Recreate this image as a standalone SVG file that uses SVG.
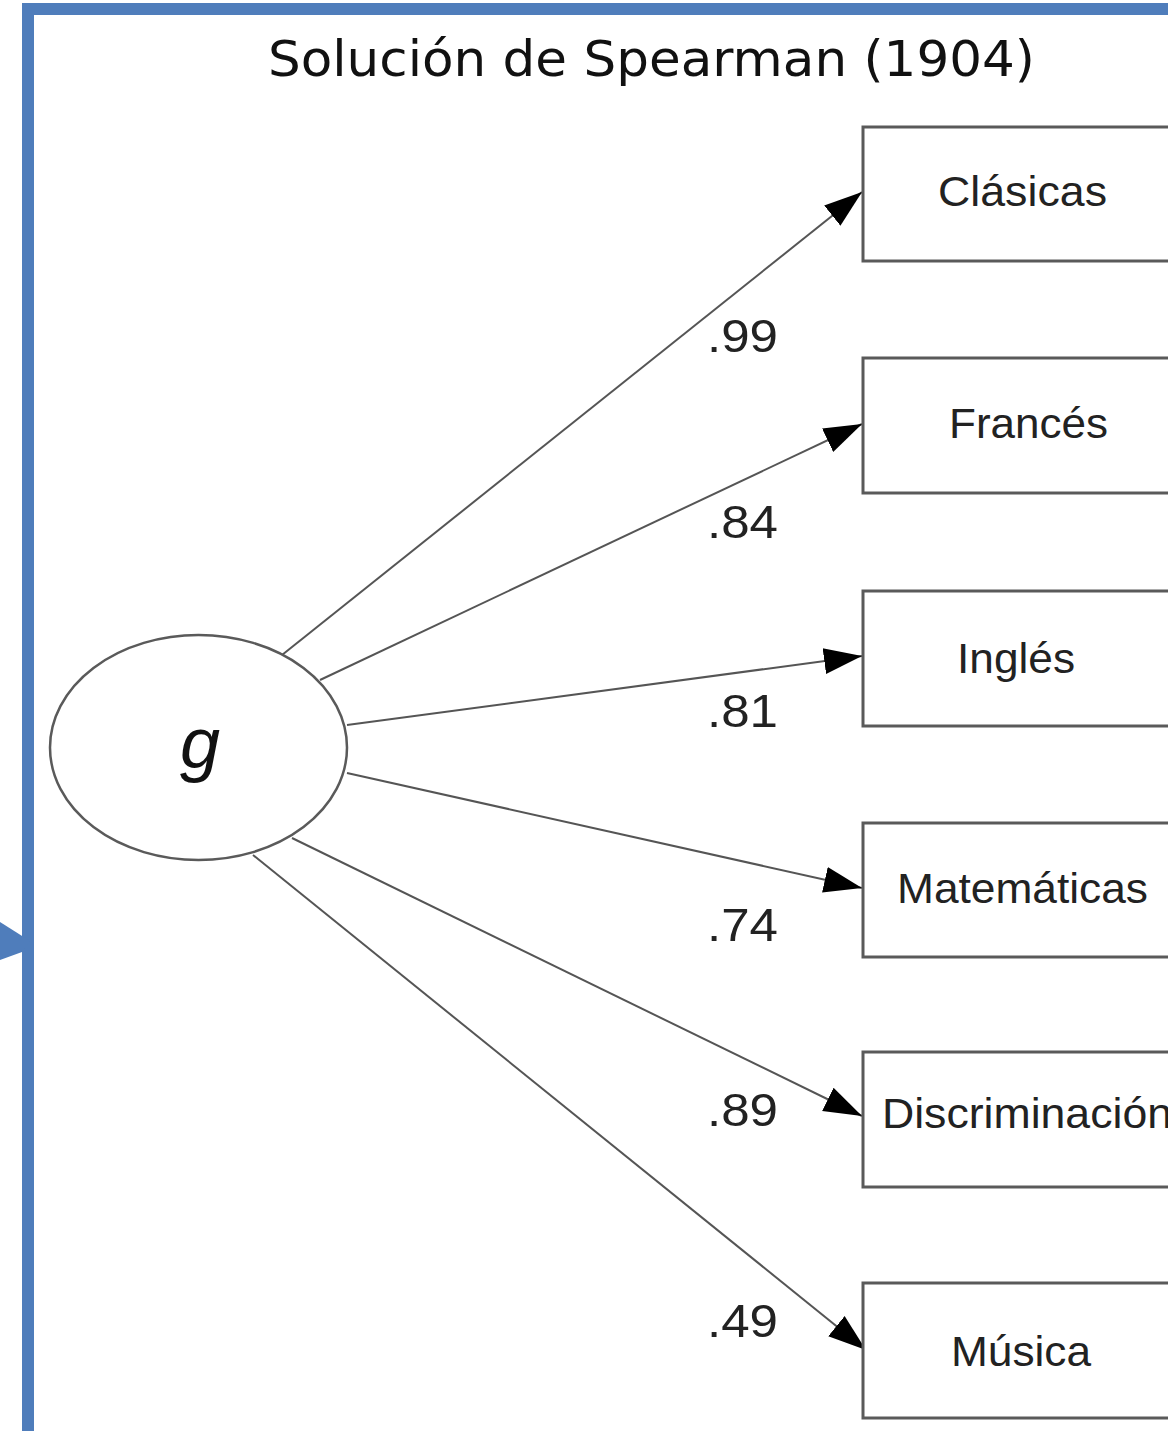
<svg xmlns="http://www.w3.org/2000/svg" width="1168" height="1431" viewBox="0 0 1168 1431">
<defs>
<style>
.frame{fill:none;stroke:#4f7dbb;stroke-width:12}
.box{fill:#fff;stroke:#5a5a5a;stroke-width:3}
.lbl{font-family:"Liberation Sans",Arial,sans-serif;font-size:42px;fill:#222}
.num{font-family:"Liberation Sans",Arial,sans-serif;font-size:47px;fill:#222}
.edge{stroke:#555;stroke-width:2;fill:none;marker-end:url(#ah)}
</style>
<marker id="ah" markerUnits="userSpaceOnUse" markerWidth="40" markerHeight="30" viewBox="0 0 40 30" refX="38" refY="15" orient="auto">
<path d="M0,2 L38,15 L0,28 Z" fill="#000"/>
</marker>
</defs>
<rect width="1168" height="1431" fill="#fff"/>
<rect class="frame" x="28" y="9" width="1200" height="1500"/>
<polygon points="0,922 30,941 22,952 0,960" fill="#4f7dbb"/>
<text x="268" y="76" font-family="DejaVu Sans,Verdana,sans-serif" font-size="50" fill="#111" textLength="767" lengthAdjust="spacingAndGlyphs">Solución de Spearman (1904)</text>
<g id="connectors">
<line class="edge" x1="282" y1="655" x2="862" y2="192"/>
<line class="edge" x1="320" y1="680" x2="862" y2="424"/>
<line class="edge" x1="347" y1="725" x2="862" y2="656"/>
<line class="edge" x1="347" y1="773" x2="862" y2="888"/>
<line class="edge" x1="292" y1="838" x2="862" y2="1116"/>
<line class="edge" x1="253" y1="855" x2="866" y2="1350"/>
<text class="num" x="707" y="352" textLength="71" lengthAdjust="spacingAndGlyphs">.99</text>
<text class="num" x="707" y="538" textLength="71" lengthAdjust="spacingAndGlyphs">.84</text>
<text class="num" x="707" y="727" textLength="71" lengthAdjust="spacingAndGlyphs">.81</text>
<text class="num" x="707" y="941" textLength="71" lengthAdjust="spacingAndGlyphs">.74</text>
<text class="num" x="707" y="1126" textLength="71" lengthAdjust="spacingAndGlyphs">.89</text>
<text class="num" x="707" y="1337" textLength="71" lengthAdjust="spacingAndGlyphs">.49</text>
</g>
<g id="g-node">
<ellipse cx="198.5" cy="747.5" rx="148.5" ry="112.5" fill="#fff" stroke="#5a5a5a" stroke-width="2.5"/>
<text x="200" y="768" font-family="Liberation Sans,Arial,sans-serif" font-size="72" font-style="italic" fill="#111" text-anchor="middle">g</text>
</g>
<g id="clasicas"><rect class="box" x="863" y="127" width="330" height="134"/><text class="lbl" x="938" y="206" textLength="169" lengthAdjust="spacingAndGlyphs">Clásicas</text></g>
<g id="frances"><rect class="box" x="863" y="358" width="330" height="135"/><text class="lbl" x="949" y="438" textLength="159" lengthAdjust="spacingAndGlyphs">Francés</text></g>
<g id="ingles"><rect class="box" x="863" y="591" width="330" height="135"/><text class="lbl" x="957" y="673" textLength="118" lengthAdjust="spacingAndGlyphs">Inglés</text></g>
<g id="matematicas"><rect class="box" x="863" y="823" width="330" height="134"/><text class="lbl" x="897" y="903" textLength="251" lengthAdjust="spacingAndGlyphs">Matemáticas</text></g>
<g id="discriminacion"><rect class="box" x="863" y="1052" width="330" height="135"/><text class="lbl" x="882" y="1128" textLength="290" lengthAdjust="spacingAndGlyphs">Discriminación</text></g>
<g id="musica"><rect class="box" x="863" y="1283" width="330" height="135"/><text class="lbl" x="951" y="1366" textLength="140" lengthAdjust="spacingAndGlyphs">Música</text></g>
</svg>
